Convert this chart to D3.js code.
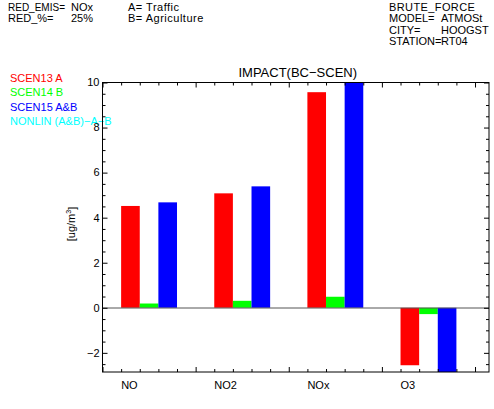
<!DOCTYPE html>
<html>
<head>
<meta charset="utf-8">
<script src="https://cdn.jsdelivr.net/npm/d3@7"></script>
<style>
    body { margin: 0; background: #ffffff; }
    svg { display: block; }
</style>
</head>
<body>
<div id="chart"></div>
<script>
// pollutants on the x axis
const categories = ['NO', 'NO2', 'NOx', 'O3'];

// impact values per scenario (ug/m3)
const scen13_a = [4.52, 5.08, 9.57, -2.55];
const scen14_b = [0.19, 0.31, 0.49, -0.28];
const scen15_ab = [4.68, 5.39, 10.4, -3.2];

const series_names = ['SCEN13 A', 'SCEN14 B', 'SCEN15 A&B', 'NONLIN (A&B)\u2212A\u2212B'];
const series_colors = ['#ff0000', '#00ff00', '#0000ff', '#00ffff'];

const header_left = [['RED_EMIS=', 'NOx'], ['RED_%=', '25%']];
const header_mid = ['A= Traffic', 'B= Agriculture'];
const header_right = [['BRUTE_FORCE', ''], ['MODEL=', 'ATMOSt'], ['CITY=', 'HOOGST'], ['STATION=', 'RT04']];

const y_ticks = [-2, 0, 2, 4, 6, 8, 10];

(function() {
    const width = 494, height = 409;
    const margins = {top: 82.5, right: 5, bottom: 37, left: 102.5};
    const font = '"Liberation Sans", Arial, sans-serif';

    let svg = d3.select('#chart').append('svg')
        .attr('width', width)
        .attr('height', height)
        .attr('font-family', font)
        .attr('font-size', 11);

    let plot_w = width - margins.left - margins.right,
        plot_h = height - margins.top - margins.bottom;

    let x = d3.scaleLinear().domain([0, 4.15]).range([0, plot_w]);
    let y = d3.scaleLinear().domain([-2.85, 10]).range([plot_h, 0]);

    // header texts
    let head = svg.append('g').attr('fill', '#000000');
    header_left.forEach(function(row, i) {
        let t = head.append('text').attr('x', 8).attr('y', 11 + i * 11.3).text(row[0]);
        if (row[0].length > 7) t.attr('textLength', 57).attr('lengthAdjust', 'spacingAndGlyphs');
        head.append('text').attr('x', 71).attr('y', 11 + i * 11.3).text(row[1]);
    });
    header_mid.forEach(function(t, i) {
        head.append('text').attr('x', 128).attr('y', 11 + i * 11.3)
            .attr('letter-spacing', 0.5).text(t);
    });
    header_right.forEach(function(row, i) {
        let t = head.append('text').attr('x', 389).attr('y', 11 + i * 11.3).text(row[0]);
        if (i === 0) t.attr('letter-spacing', 0.4);
        head.append('text').attr('x', 441).attr('y', 11 + i * 11.3).text(row[1]);
    });

    // legend
    svg.append('g').selectAll('text')
        .data(series_names)
        .enter().append('text')
        .attr('x', 10)
        .attr('y', (d, i) => 81.5 + i * 14.6)
        .attr('fill', (d, i) => series_colors[i])
        .text((d) => d);

    let g = svg.append('g')
        .attr('transform', 'translate(' + margins.left + ',' + margins.top + ')');

    g.append('clipPath').attr('id', 'plot-clip')
        .append('rect')
        .attr('width', plot_w)
        .attr('height', plot_h);

    // bars
    let bars = g.append('g').attr('clip-path', 'url(#plot-clip)');
    let bar_w = x(0.2) - x(0);
    [scen13_a, scen14_b, scen15_ab].forEach(function(values, s) {
        bars.selectAll('rect.s' + s)
            .data(values)
            .enter().append('rect')
            .attr('class', 's' + s)
            .attr('x', (d, i) => x(i + 0.2 + s * 0.2))
            .attr('y', (d) => y(Math.max(0, d)))
            .attr('width', bar_w)
            .attr('height', (d) => Math.abs(y(d) - y(0)))
            .attr('fill', series_colors[s]);
    });

    // zero line
    g.append('line')
        .attr('x1', 0).attr('x2', plot_w)
        .attr('y1', Math.round(y(0)) + 0.5).attr('y2', Math.round(y(0)) + 0.5)
        .attr('stroke', '#555555');

    // axes, ticks inward on all four sides
    let x_major = d3.range(0, 5);
    let x_minor = d3.range(0, 21).map((i) => i * 0.2).filter((v) => Math.abs(v - Math.round(v)) > 1e-6);
    let y_minor = d3.range(-5, 21).map((i) => i * 0.5).filter((v) => v >= -2.85 && v % 2 !== 0);

    let ax = function(axis_fn, scale, values, size, tx, ty) {
        let a = g.append('g')
            .attr('transform', 'translate(' + tx + ',' + ty + ')')
            .call(axis_fn(scale).tickValues(values).tickSize(size).tickFormat(''));
        a.select('.domain').remove();
        a.selectAll('line').attr('stroke', '#000000');
        return a;
    };

    ax(d3.axisTop, x, x_major, 5, 0, plot_h);
    ax(d3.axisTop, x, x_minor, 3, 0, plot_h);
    ax(d3.axisBottom, x, x_major, 5, 0, 0);
    ax(d3.axisBottom, x, x_minor, 3, 0, 0);
    ax(d3.axisRight, y, y_ticks, 5, 0, 0);
    ax(d3.axisRight, y, y_minor, 3, 0, 0);
    ax(d3.axisLeft, y, y_ticks, 5, plot_w, 0);
    ax(d3.axisLeft, y, y_minor, 3, plot_w, 0);

    g.append('rect')
        .attr('width', plot_w)
        .attr('height', plot_h)
        .attr('fill', 'none')
        .attr('stroke', '#000000');

    // y tick labels
    g.append('g').selectAll('text')
        .data(y_ticks)
        .enter().append('text')
        .attr('x', -3)
        .attr('y', (d) => y(d))
        .attr('dy', '0.35em')
        .attr('text-anchor', 'end')
        .text((d) => d < 0 ? '\u2212' + Math.abs(d) : d);

    // category labels
    g.append('g').selectAll('text')
        .data(categories)
        .enter().append('text')
        .attr('x', (d, i) => x(i + 0.2))
        .attr('y', plot_h + 17)
        .text((d) => d);

    // title
    svg.append('text')
        .attr('x', margins.left + plot_w / 2 + 2)
        .attr('y', 76.5)
        .attr('text-anchor', 'middle')
        .attr('font-size', 13)
        .text('IMPACT(BC\u2212SCEN)');

    // y axis label
    let yl = svg.append('text')
        .attr('transform', 'translate(75,224) rotate(-90)')
        .attr('text-anchor', 'middle');
    yl.append('tspan').text('[ug/m');
    yl.append('tspan').attr('font-size', 7).attr('dy', '-0.6em').text('3');
    yl.append('tspan').attr('dy', '0.45em').text(']');
}());
</script>
</body>
</html>
